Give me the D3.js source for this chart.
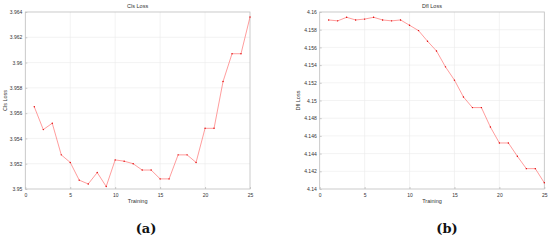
<!DOCTYPE html>
<html>
<head>
<meta charset="utf-8">
<script src="https://cdn.jsdelivr.net/npm/d3@7"></script>
<style>
  body { margin: 0; background: #fff; }
  svg text { font-family: "Liberation Sans", Arial, sans-serif; }
  svg text.caption { font-family: "DejaVu Serif", serif; }
</style>
</head>
<body>
<svg id="chart" width="550" height="240"></svg>
<script>
// epochs
var epochs = d3.range(1, 26);

// Cls loss per epoch (panel a)
var clsLoss = [3.9565, 3.9547, 3.9552, 3.9527, 3.9521, 3.9507, 3.9504, 3.9513, 3.9502, 3.9523,
               3.9522, 3.9520, 3.9515, 3.9515, 3.9508, 3.9508, 3.9527, 3.9527, 3.9521, 3.9548,
               3.9548, 3.9585, 3.9607, 3.9607, 3.9636];

// Dfl loss per epoch (panel b)
var dflLoss = [4.1591, 4.1590, 4.1594, 4.1591, 4.1592, 4.1594, 4.1591, 4.1590, 4.1591, 4.1585,
               4.1579, 4.1567, 4.1556, 4.1538, 4.1523, 4.1504, 4.1492, 4.1492, 4.1470, 4.1452,
               4.1452, 4.1437, 4.1423, 4.1423, 4.1407];

var xTicks = [0, 5, 10, 15, 20, 25];
var clsTicks = [3.95, 3.952, 3.954, 3.956, 3.958, 3.96, 3.962, 3.964];
var dflTicks = [4.14, 4.142, 4.144, 4.146, 4.148, 4.15, 4.152, 4.154, 4.156, 4.158, 4.16];

var svg = d3.select("#chart");

function panel(opts) {
  var g = svg.append("g");
  var x = d3.scaleLinear().domain([0, 25]).range([opts.left, opts.right]);
  var y = d3.scaleLinear().domain(opts.domain).range([189, 12]);

  // grid
  g.append("g").selectAll("line").data(xTicks.slice(1, -1)).enter().append("line")
      .attr("x1", d => x(d)).attr("x2", d => x(d))
      .attr("y1", 12).attr("y2", 189)
      .attr("stroke", "#ebebeb").attr("stroke-width", 0.6);
  g.append("g").selectAll("line").data(opts.ticks.slice(1, -1)).enter().append("line")
      .attr("x1", opts.left).attr("x2", opts.right)
      .attr("y1", d => y(d)).attr("y2", d => y(d))
      .attr("stroke", "#ebebeb").attr("stroke-width", 0.6);

  // axes (ticks inside, matlab style)
  var xAxis = g.append("g")
      .attr("transform", "translate(0,189)")
      .call(d3.axisBottom(x).tickValues(xTicks).tickSize(-2).tickPadding(4).tickFormat(d3.format("d")));
  var yAxis = g.append("g")
      .attr("transform", "translate(" + opts.left + ",0)")
      .call(d3.axisLeft(y).tickValues(opts.ticks).tickSize(-2).tickPadding(3).tickFormat(d => +d.toFixed(3)));
  [xAxis, yAxis].forEach(function(a) {
    a.select(".domain").remove();
    a.selectAll("line").attr("stroke", "#999").attr("stroke-width", 0.5);
    a.selectAll("text").attr("font-size", 5).attr("fill", "#333");
  });

  // frame
  g.append("rect")
      .attr("x", opts.left).attr("y", 12)
      .attr("width", opts.right - opts.left).attr("height", 177)
      .attr("fill", "none").attr("stroke", "#bdbdbd").attr("stroke-width", 0.8);

  // line + markers
  var pts = epochs.map((e, i) => [e, opts.values[i]]);
  g.append("path")
      .datum(pts)
      .attr("fill", "none")
      .attr("stroke", "#ff5a5a")
      .attr("stroke-width", 0.6)
      .attr("d", d3.line().x(d => x(d[0])).y(d => y(d[1])));
  g.append("g").selectAll("circle").data(pts).enter().append("circle")
      .attr("cx", d => x(d[0])).attr("cy", d => y(d[1]))
      .attr("r", 0.7).attr("fill", "#e00000");

  // texts
  var cx = (opts.left + opts.right) / 2;
  g.append("text").attr("x", cx).attr("y", 8).attr("text-anchor", "middle")
      .attr("font-size", 5.5).attr("fill", "#333").text(opts.title);
  g.append("text").attr("x", cx).attr("y", 203).attr("text-anchor", "middle")
      .attr("font-size", 5.5).attr("fill", "#333").text("Training");
  g.append("text")
      .attr("transform", "translate(" + opts.ylabX + ",100.5) rotate(-90)")
      .attr("text-anchor", "middle")
      .attr("font-size", 5.5).attr("fill", "#333").text(opts.title);
  g.append("text").attr("class", "caption")
      .attr("x", opts.capX).attr("y", 233).attr("text-anchor", "middle")
      .attr("font-size", 13).attr("font-weight", "bold")
      .attr("fill", "#111").text(opts.caption);
}

panel({left: 25.3, right: 250, domain: [3.95, 3.964], ticks: clsTicks, values: clsLoss,
       title: "Cls Loss", ylabX: 7, capX: 146, caption: "(a)"});
panel({left: 319.7, right: 544.3, domain: [4.14, 4.16], ticks: dflTicks, values: dflLoss,
       title: "Dfl Loss", ylabX: 300, capX: 447, caption: "(b)"});
</script>
</body>
</html>
